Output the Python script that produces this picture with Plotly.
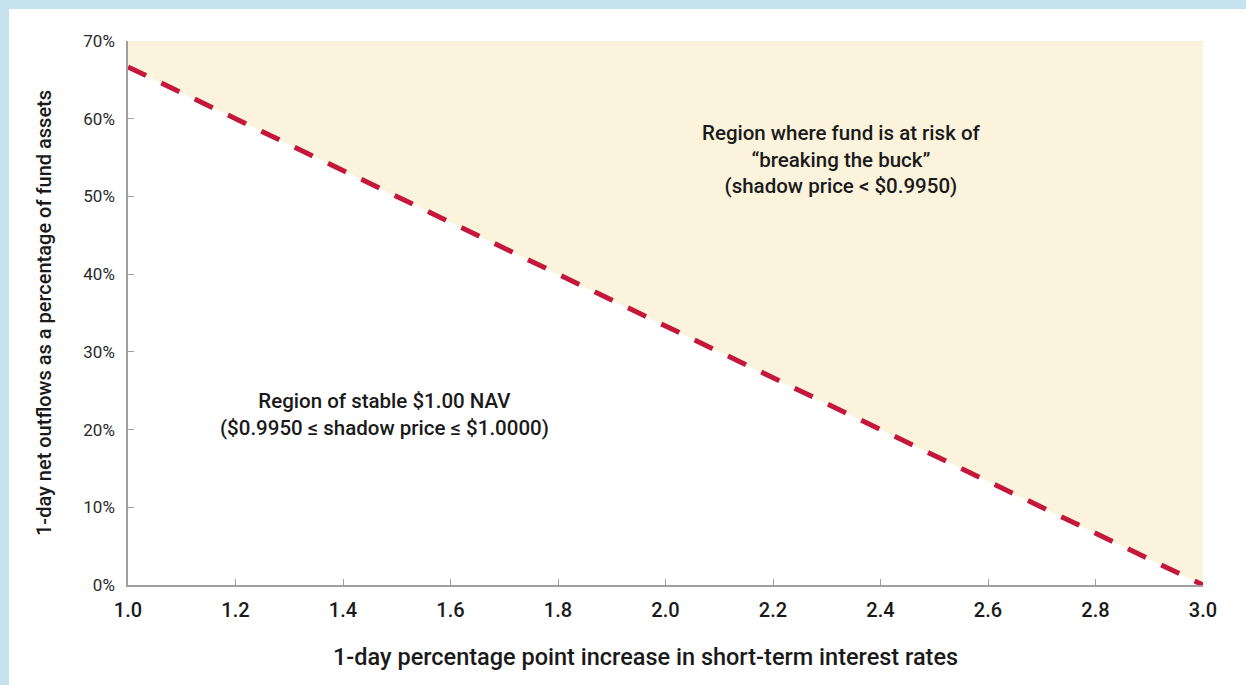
import plotly.graph_objects as go

# threshold line: outflow % vs rate increase
rate_increase = [1.0, 3.0]
outflow_pct = [66.67, 0.0]
y_top = 70

x_ticks = [1.0, 1.2, 1.4, 1.6, 1.8, 2.0, 2.2, 2.4, 2.6, 2.8, 3.0]
y_ticks = [0, 10, 20, 30, 40, 50, 60, 70]

W, H = 1246, 685
L, R, T, B = 128, 43, 41, 100

fig = go.Figure()

# shaded "at risk" region above the line
fig.add_trace(go.Scatter(
    x=rate_increase + rate_increase[::-1],
    y=outflow_pct + [y_top, y_top],
    fill='toself',
    fillcolor='#FBF3DC',
    line=dict(width=0),
    mode='lines',
    hoverinfo='skip',
))

fig.add_trace(go.Scatter(
    x=rate_increase,
    y=outflow_pct,
    mode='lines',
    line=dict(color='#C4173B', width=5, dash='20px,17px'),
))

font_main = 'Roboto'

fig.add_annotation(
    x=2.328, y=54.7,
    text='Region where fund is at risk of<br>\u201cbreaking the buck\u201d<br>(shadow price < $0.9950)',
    showarrow=False,
    font=dict(family=font_main, size=20.5, color='#1a1a1a', weight=500),
    align='center',
)
fig.add_annotation(
    x=1.478, y=22.0,
    text='Region of stable $1.00 NAV<br>($0.9950 \u2264 shadow price \u2264 $1.0000)',
    showarrow=False,
    font=dict(family=font_main, size=20.5, color='#1a1a1a', weight=500),
    align='center',
)

# pixel -> paper helpers
pw = W - L - R
ph = H - T - B
def px_x(p):
    return (p - L) / pw
def px_y(p):
    return (H - B - p) / ph

# x-axis title (sits slightly left of plot centre in the original)
fig.add_annotation(
    xref='paper', yref='paper',
    x=px_x(645), y=px_y(657),
    xanchor='center', yanchor='middle',
    text='1-day percentage point increase in short-term interest rates',
    showarrow=False,
    font=dict(family=font_main, size=23.5, color='#1a1a1a', weight=500),
)

# light blue frame at top and left edges of the page
fig.add_shape(type='rect', xref='paper', yref='paper', layer='below',
              x0=px_x(0), x1=px_x(W), y0=px_y(0), y1=px_y(9),
              fillcolor='#C6E2EF', line=dict(width=0))
fig.add_shape(type='rect', xref='paper', yref='paper', layer='below',
              x0=px_x(0), x1=px_x(9), y0=px_y(0), y1=px_y(H),
              fillcolor='#C6E2EF', line=dict(width=0))

fig.update_xaxes(
    range=[1.0, 3.0],
    tickvals=x_ticks,
    ticktext=['%.1f' % v for v in x_ticks],
    ticks='inside', ticklen=6, tickcolor='#A0A0A0',
    showline=True, linecolor='#A0A0A0', linewidth=1.5,
    showgrid=False, zeroline=False,
    ticklabelstandoff=6,
    tickfont=dict(family=font_main, size=20, color='#1a1a1a', weight=500),
)
fig.update_yaxes(
    range=[0, y_top],
    tickvals=y_ticks,
    ticktext=['%d%%' % v for v in y_ticks],
    ticks='inside', ticklen=6, tickcolor='#A0A0A0',
    showline=True, linecolor='#A0A0A0', linewidth=1.5,
    showgrid=False, zeroline=False,
    ticklabelstandoff=8,
    tickfont=dict(family=font_main, size=17, color='#2a2a2a'),
    title=dict(text='1-day net outflows as a percentage of fund assets',
               font=dict(family=font_main, size=20, color='#1a1a1a', weight=500),
               standoff=26),
)

fig.update_layout(
    width=W, height=H,
    margin=dict(l=L, r=R, t=T, b=B),
    paper_bgcolor='white',
    plot_bgcolor='white',
    showlegend=False,
)

fig.write_html('out.html', config={'displayModeBar': False},
               post_script="document.body.style.margin='0px';")
